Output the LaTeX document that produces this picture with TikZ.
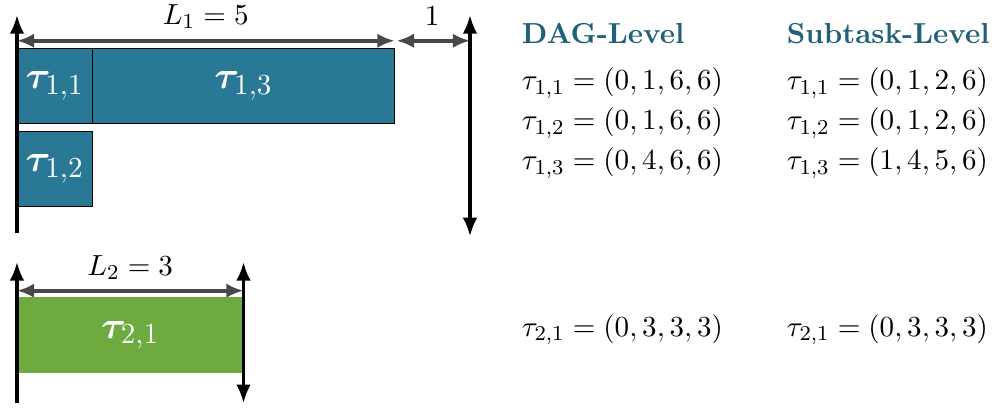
\documentclass[tikz,border=0pt]{standalone}
\usepackage{amsmath,amssymb,bm}
\usepackage{tikz}
\usetikzlibrary{arrows.meta,positioning}
\definecolor{dagblue}{RGB}{41,120,150}
\definecolor{daggreen}{RGB}{109,170,63}
\definecolor{headteal}{RGB}{32,96,120}
\definecolor{dimgray}{RGB}{72,72,72}

\begin{document}
\begin{tikzpicture}[every node/.style={font=\fontsize{11.2}{13.5}\selectfont},
  job/.style={draw=black, line width=0.4pt, fill=dagblue, text=white, inner sep=0pt,
    minimum height=1cm, font=\fontsize{15}{17}\selectfont},
  axis/.style={line width=1.2pt, -{Latex[length=7pt,width=5.5pt]}},
  bothaxis/.style={line width=1.2pt, {Latex[length=7pt,width=5.5pt]}-{Latex[length=7pt,width=5.5pt]}},
  dimline/.style={draw=dimgray, line width=1.5pt,
    {Latex[length=6.5pt,width=5.5pt]}-{Latex[length=6.5pt,width=5.5pt]}},
  head/.style={anchor=west, inner xsep=0pt, text=headteal, font=\fontsize{10.9}{13}\selectfont\bfseries},
  param/.style={anchor=west, inner xsep=0pt}]
\useasboundingbox (-0.225,-0.477) rectangle (12.94,4.94);
% task 1
\node[job, minimum width=1cm] (t11) at (0.5,3.8) {$\bm{\tau}_{1,1}$};
\node[job, minimum width=4cm] (t13) at (3,3.8) {$\bm{\tau}_{1,3}$};
\node[job, minimum width=1cm] (t12) at (0.5,2.7) {$\bm{\tau}_{1,2}$};
\coordinate (r1) at (0,1.85);
\coordinate (d1) at (0,4.74);
\coordinate (e1) at (6,1.81);
\coordinate (f1) at (6,4.74);
\draw[axis] (r1) -- (d1);
\draw[bothaxis] (e1) -- (f1);
\coordinate (l1a) at (0,4.4);
\coordinate (l1b) at (5,4.4);
\coordinate (l1c) at (5.03,4.4);
\coordinate (l1d) at (6,4.4);
\draw[dimline] (l1a) -- (l1b);
\draw[dimline] (l1c) -- (l1d);
\node (len1) at (2.5,4.72) {$L_1 = 5$};
\node (slack1) at (5.5,4.72) {$1$};
% task 2
\node[job, fill=daggreen, draw=none, minimum width=3cm] (t21) at (1.5,0.5) {$\bm{\tau}_{2,1}$};
\coordinate (r2) at (0,-0.4);
\coordinate (d2) at (0,1.47);
\coordinate (e2) at (3,-0.4);
\coordinate (f2) at (3,1.47);
\draw[axis] (r2) -- (d2);
\draw[bothaxis] (e2) -- (f2);
\coordinate (l2a) at (0,1.09);
\coordinate (l2b) at (3,1.09);
\draw[dimline] (l2a) -- (l2b);
\node (len2) at (1.5,1.40) {$L_2 = 3$};
% parameters
\node[head] (daghead) at (6.68,4.50) {DAG-Level};
\node[head] (subhead) at (10.19,4.50) {Subtask-Level};
\node[param] (dag11) at (6.68,3.84) {$\tau_{1,1} = (0,1,6,6)$};
\node[param] (dag12) at (6.68,3.31) {$\tau_{1,2} = (0,1,6,6)$};
\node[param] (dag13) at (6.68,2.78) {$\tau_{1,3} = (0,4,6,6)$};
\node[param] (dag21) at (6.68,0.57) {$\tau_{2,1} = (0,3,3,3)$};
\node[param] (sub11) at (10.19,3.84) {$\tau_{1,1} = (0,1,2,6)$};
\node[param] (sub12) at (10.19,3.31) {$\tau_{1,2} = (0,1,2,6)$};
\node[param] (sub13) at (10.19,2.78) {$\tau_{1,3} = (1,4,5,6)$};
\node[param] (sub21) at (10.19,0.57) {$\tau_{2,1} = (0,3,3,3)$};
\end{tikzpicture}
\end{document}
